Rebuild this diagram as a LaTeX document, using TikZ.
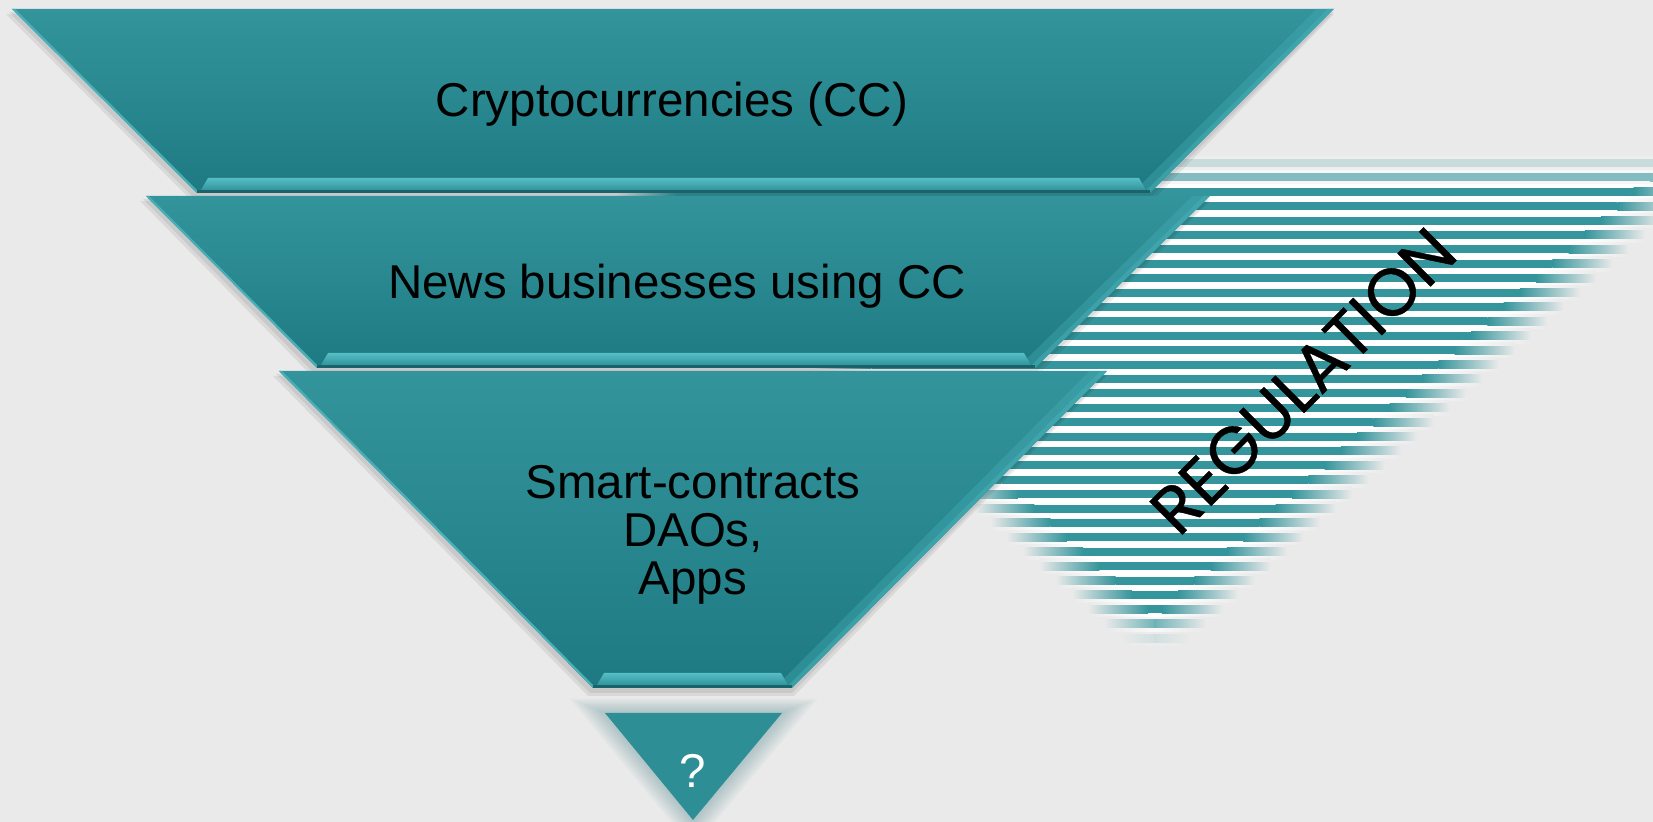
\documentclass[tikz,border=0pt]{standalone}
\usepackage{fontspec}
\setmainfont{Liberation Sans}
\newfontfamily\regfont{Poppins}[FakeBold=0.6]
\usetikzlibrary{math}
\definecolor{bggrey}{RGB}{234,234,234}
\definecolor{tealtop}{RGB}{51,148,156}
\definecolor{tealbot}{RGB}{30,122,130}
\definecolor{tealedge}{RGB}{72,176,184}
\definecolor{bevlight}{RGB}{128,224,230}
\definecolor{bevmid}{RGB}{86,190,198}
\definecolor{bevdark}{RGB}{50,148,156}
\definecolor{tealline}{RGB}{25,100,107}
\definecolor{stripeteal}{RGB}{53,149,156}
\definecolor{qteal}{RGB}{46,142,150}

\begin{document}
\begin{tikzpicture}[x=0.01cm,y=-0.01cm,
  bandtext/.style={font=\fontsize{13.5}{13.75}\selectfont, inner sep=0pt}]
\tikzmath{
\tipx=1155; \tipy=642;
\slope=1.13;
\soft=30;
\period=14.4;
\half=4.0;
}
\useasboundingbox (0,0) rectangle (1653,822);
\fill[bggrey] (0,0) rectangle (1653,822);

% striped wedge, soft on both sides
\foreach \n in {0,...,33}{
\tikzmath{
\y=163+\period*\n;
\xl=\tipx-\slope*(\tipy-\y);
\xr=\tipx+\slope*(\tipy-\y);
\xm=(\xl+\xr)/2;
\fade=max(0,min(1,(\xr-\xl)/(2*\soft)))*min(1,0.2+0.4*\n);
\pl=min(\xl+\soft,\xm);
\pr=max(\xr-\soft,\xm);
}
\begin{scope}[opacity=\fade]
\shade[left color=bggrey, right color=white] (\xl-\soft,\y-7.3) rectangle (\pl,\y+7.3);
\fill[white] (\pl,\y-7.3) rectangle (\pr,\y+7.3);
\shade[left color=white, right color=bggrey] (\pr,\y-7.3) rectangle (\xr+\soft,\y+7.3);
\shade[left color=bggrey, right color=stripeteal] (\xl-\soft,\y-\half) rectangle (\pl,\y+\half);
\fill[stripeteal] (\pl,\y-\half) rectangle (\pr,\y+\half);
\shade[left color=stripeteal, right color=bggrey] (\pr,\y-\half) rectangle (\xr+\soft,\y+\half);
\end{scope}
}

% funnel bands
\foreach \tl/\tr/\yt/\bl/\br/\yb in {12/1334/9/197/1150/193, 146/1210/196/317/1035/368, 279/1107/371/593/792/688}{
\fill[black,opacity=0.07] (\tl-3,\yt+3) -- (\tr,\yt+3) -- (\br,\yb+5) -- (\bl-3,\yb+5) -- cycle;
\fill[black,opacity=0.07] (\tl-6,\yt+5) -- (\tr,\yt+5) -- (\br+2,\yb+8) -- (\bl-5,\yb+8) -- cycle;
\shade[top color=tealtop, bottom color=tealbot] (\tl,\yt) -- (\tr,\yt) -- (\br,\yb) -- (\bl,\yb) -- cycle;
\begin{scope}
\clip (\tl,\yt) -- (\tr,\yt) -- (\br,\yb) -- (\bl,\yb) -- cycle;
\draw[tealedge, opacity=0.35, line width=7pt] (\tr,\yt) -- (\br,\yb);
\draw[tealedge, opacity=0.5, line width=2.5pt] (\tr,\yt) -- (\br,\yb);
\draw[tealedge, line width=1.2pt] (\tl,\yt) -- (\bl,\yb);
\end{scope}
\shade[top color=bevmid, middle color=bevlight, bottom color=bevdark] (\bl+4,\yb-3) -- (\bl+11,\yb-15) -- (\br-11,\yb-15) -- (\br-4,\yb-3) -- cycle;
\fill[tealline] (\bl,\yb-3) rectangle (\br,\yb);
}

% last small triangle with its halo
\foreach \s [evaluate=\s as \g using 1+0.05*\s] in {1,...,8}
  \fill[tealline, opacity=0.035] (693-88*\g,749-36*\g) -- (693+89*\g,749-36*\g) -- (693,749+71*\g) -- cycle;
\fill[qteal] (605,713) -- (782,713) -- (693,820) -- cycle;

\node[bandtext, anchor=base] (crypto) at (672,117) {Cryptocurrencies (CC)};
\node[bandtext, anchor=base] (news) at (677,299) {News businesses using CC};
\node[bandtext, align=center] (smart) at (693,535) {Smart-contracts\\DAOs,\\Apps};
\node[bandtext, anchor=base, text=white] (qmark) at (693,788) {?};
\node[font=\regfont\fontsize{19}{19}\selectfont, inner sep=0pt, rotate=45] (regul) at (1303,381) {REGULATION};
\end{tikzpicture}
\end{document}
